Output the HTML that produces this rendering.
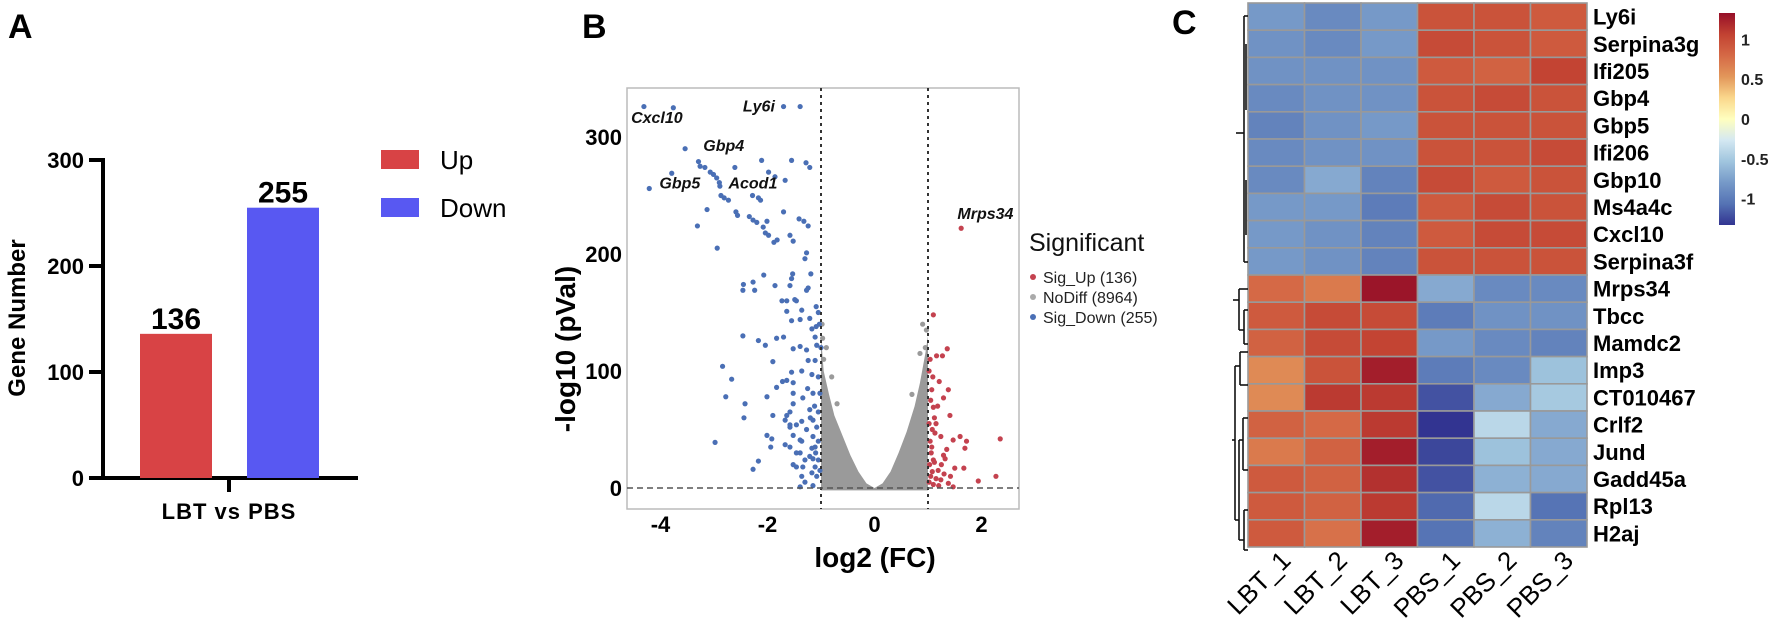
<!DOCTYPE html>
<html><head><meta charset="utf-8">
<style>
html,body{margin:0;padding:0;background:#fff;}
svg{display:block;font-family:"Liberation Sans",Arial,sans-serif;}
</style></head>
<body>
<svg id="fig" width="1772" height="630" viewBox="0 0 1772 630" xmlns="http://www.w3.org/2000/svg">
<g id="panelA"></g>
<g id="panelB"></g>
<g id="panelC"></g>
</svg>
<script>
const NS="http://www.w3.org/2000/svg";
function mk(parent,tag,attrs,text){const e=document.createElementNS(NS,tag);for(const k in attrs)e.setAttribute(k,attrs[k]);if(text!==undefined)e.textContent=text;parent.appendChild(e);return e;}

/* ---------- Panel A data ---------- */
const barCategories=["Up","Down"];
const barValues=[136,255];
const barColors=["#d84345","#5858f2"];
const barTicks=[0,100,200,300];

/* ---------- Panel B data ---------- */
const volcXTicks=[-4,-2,0,2];
const volcYTicks=[0,100,200,300];
const downX=[-4.31,-3.76,-3.54,-3.29,-3.26,-3.17,-3.07,-3.01,-2.95,-2.90,-2.89,-2.87,-2.81,-2.73,-3.79,-4.21,-2.61,-2.11,-1.98,-1.86,-1.67,-1.55,-1.28,-1.21,-1.70,-1.39,-2.28,-2.17,-2.13,-2.59,-2.56,-2.34,-2.27,-2.20,-2.08,-2.01,-2.04,-1.98,-1.88,-1.82,-1.70,-1.58,-1.52,-1.41,-1.32,-1.24,-3.13,-3.31,-2.94,-1.27,-1.30,-1.19,-1.24,-1.27,-1.53,-1.55,-2.07,-1.86,-1.58,-2.45,-2.46,-2.27,-2.24,-1.73,-1.64,-1.49,-1.46,-1.09,-1.64,-1.55,-1.39,-1.36,-1.21,-1.17,-1.09,-2.46,-2.17,-2.04,-1.83,-1.70,-1.52,-1.39,-1.27,-1.11,-1.08,-2.84,-2.67,-1.90,-1.72,-1.64,-1.55,-1.52,-1.36,-1.17,-1.83,-2.78,-2.01,-2.42,-2.44,-1.52,-1.34,-1.21,-1.15,-1.90,-1.67,-1.58,-1.46,-1.36,-1.27,-1.15,-1.11,-2.01,-1.92,-1.94,-2.98,-1.67,-1.58,-1.36,-1.17,-1.21,-2.17,-2.27,-1.52,-1.46,-1.34,-1.17,-1.11,-1.36,-1.30,-1.15,-1.39,-1.08,-1.05,-1.58,-1.52,-1.02,-1.15,-1.05,-1.11,-1.24,-1.15,-1.39,-1.46,-1.30,-1.39,-1.58,-1.64,-1.52,-1.08,-1.05,-1.10,-1.02,-1.20,-1.05,-1.12,-1.25,-1.00,-1.03,-1.05];
const downY=[326,325,290,279,275,274,270,268,265,261,258,250,248,246,269,256,274,280,270,266,263,280,278,274,326,326,250,248,246,236,233,232,229,227,223,228,218,216,210,212,236,216,211,230,228,224,238,224,205,201,196,183,171,169,183,179,182,173,173,174,169,176,169,160,160,161,160,155,151,143,144,152,145,136,138,130,126,122,128,129,119,121,118,129,122,104,93,108,91,92,99,90,100,97,86,78,78,72,60,72,77,67,58,62,58,65,54,57,50,44,35,45,42,35,39,37,35,40,34,27,23,16,20,18,18,13,18,10,5,2,1,52,24,52,45,81,81,95,109,109,25,30,30,24,41,54,62,81,10,40,30,15,60,65,70,85,120,140,150];
const upX=[1.62,1.10,1.36,1.04,1.16,1.27,1.21,1.38,1.07,1.29,1.10,1.41,1.12,2.35,1.72,1.60,1.69,1.47,1.35,1.32,1.50,1.67,2.27,1.94,1.42,1.13,1.24,1.07,1.29,1.10,1.19,1.24,1.38,1.47,1.02,1.05,1.08,1.03,1.12,1.06,1.15,1.10,1.20,1.04,1.08,1.02,1.15,1.05,1.18,1.09,1.30,1.25,1.02];
const upY=[222,148,119,110,113,113,91,84,84,77,69,62,60,42,40,44,34,41,33,25,17,17,10,6,10,47,44,35,28,24,15,7,4,1,5,10,14,20,22,30,8,3,2,40,50,55,55,75,70,95,12,20,100];
const grayEnvX=[-1.0,-0.95,-0.85,-0.75,-0.6,-0.45,-0.3,-0.15,0,0.15,0.3,0.45,0.6,0.75,0.85,0.95,1.0];
const grayEnvY=[130,100,80,62,45,28,14,4,0,4,14,30,48,70,90,115,130];
const grayOutX=[-0.95,-0.8,-0.9,0.9,0.85,0.95,-0.98,-0.7,0.7,-0.97,0.97];
const grayOutY=[110,95,120,140,115,120,140,72,80,128,135];
const geneLabels=["Cxcl10","Ly6i","Gbp4","Gbp5","Acod1","Mrps34"];
const geneLabelX=[-4.55,-2.46,-3.2,-4.02,-2.73,1.55];
const geneLabelY=[312,322,288,256,256,230];

/* ---------- Panel C data ---------- */
const hmCols=["LBT_1","LBT_2","LBT_3","PBS_1","PBS_2","PBS_3"];
const hmRows=["Ly6i","Serpina3g","Ifi205","Gbp4","Gbp5","Ifi206","Gbp10","Ms4a4c","Cxcl10","Serpina3f","Mrps34","Tbcc","Mamdc2","Imp3","CT010467","Crlf2","Jund","Gadd45a","Rpl13","H2aj"];
const hmValues=[
[-0.8,-0.9,-0.8,0.95,0.95,0.9],
[-0.85,-0.9,-0.8,1.0,0.95,0.9],
[-0.85,-0.85,-0.85,0.9,0.85,1.05],
[-0.9,-0.85,-0.85,0.95,1.0,0.95],
[-0.95,-0.85,-0.8,0.95,0.95,0.95],
[-0.9,-0.85,-0.85,0.95,0.95,1.0],
[-0.9,-0.7,-0.95,1.0,0.9,0.95],
[-0.8,-0.8,-1.0,0.9,1.0,0.95],
[-0.8,-0.85,-0.95,0.9,1.0,1.0],
[-0.8,-0.85,-0.95,0.95,0.95,0.95],
[0.8,0.7,1.3,-0.7,-0.9,-0.9],
[0.9,1.0,1.0,-1.0,-0.85,-0.85],
[0.85,1.0,1.05,-0.8,-0.9,-0.95],
[0.6,0.95,1.25,-1.0,-0.9,-0.55],
[0.6,1.1,1.1,-1.2,-0.7,-0.5],
[0.85,0.8,1.1,-1.35,-0.4,-0.7],
[0.7,0.85,1.25,-1.25,-0.55,-0.7],
[0.9,0.85,1.15,-1.2,-0.65,-0.7],
[0.9,0.85,1.1,-1.1,-0.4,-1.05],
[0.9,0.75,1.25,-1.05,-0.65,-0.95]];
const cbTicks=[1,0.5,0,-0.5,-1];
const cbTickLabels=["1","0.5","0","-0.5","-1"];

/* ===== Panel A ===== */
(function(){
const g=document.getElementById('panelA');
const y0=478, pxPer=(478-160)/300, ax=103;
const ys=v=>y0-v*pxPer;
let t=mk(g,'text',{x:8,y:38,'font-size':34,'font-weight':'bold'},'A');


let l=mk(g,'line',{x1:ax,y1:158,x2:ax,y2:480,stroke:'#000','stroke-width':4});


l=mk(g,'line',{x1:89,y1:y0,x2:358,y2:y0,stroke:'#000','stroke-width':4});


l=mk(g,'line',{x1:229,y1:y0,x2:229,y2:492,stroke:'#000','stroke-width':4});


barTicks.forEach(v=>{
 const tk=mk(g,'line',{x1:89,y1:ys(v),x2:ax,y2:ys(v),stroke:'#000','stroke-width':4});
 
 
 const tl=mk(g,'text',{x:84,y:ys(v)+8,'font-size':22,'font-weight':'bold','text-anchor':'end'},String(v));
 
 
});
const bx=[140,247], bw=72;
barValues.forEach((v,i)=>{
 const r=mk(g,'rect',{x:bx[i],y:ys(v),width:bw,height:y0-ys(v),fill:barColors[i]});
 
 
 const tl=mk(g,'text',{x:bx[i]+bw/2,y:ys(v)-5,'font-size':30,'font-weight':'bold','text-anchor':'middle'},String(v));
 
 
 const lr=mk(g,'rect',{x:381,y:150+i*48,width:38,height:19,fill:barColors[i]});
 
 
 const lt=mk(g,'text',{x:440,y:169+i*48,'font-size':26},barCategories[i]);
 
 
});
t=mk(g,'text',{x:229,y:519,'font-size':22,'font-weight':'bold','text-anchor':'middle','letter-spacing':'1'},'LBT vs PBS');


t=mk(g,'text',{x:0,y:0,'font-size':24,'font-weight':'bold','text-anchor':'middle',transform:'translate(25,318) rotate(-90)'},'Gene Number');


})();

/* ===== Panel B ===== */
(function(){
const g=document.getElementById('panelB');
const x0=874.5, xu=53.5, y0=488, yu=1.17;
const xs=v=>x0+v*xu, ys=v=>y0-v*yu;
let t=mk(g,'text',{x:582,y:38,'font-size':34,'font-weight':'bold'},'B');


const box=mk(g,'rect',{x:627,y:88,width:392,height:421,fill:'#fff',stroke:'#bbb','stroke-width':1.5});


let pts=grayEnvX.map((x,i)=>xs(x)+','+ys(grayEnvY[i]));
pts.push(xs(1.0)+','+ys(-2)); pts.push(xs(-1.0)+','+ys(-2));
const poly=mk(g,'polygon',{points:pts.join(' '),fill:'#9a9a9a'});


grayOutX.forEach((x,i)=>{
 const c=mk(g,'circle',{cx:xs(x),cy:ys(grayOutY[i]),r:2.6,fill:'#9a9a9a'});
 
 
});
downX.forEach((x,i)=>{
 const c=mk(g,'circle',{cx:xs(x),cy:ys(downY[i]),r:2.6,fill:'#4a6fb5'});
 
 
});
upX.forEach((x,i)=>{
 const c=mk(g,'circle',{cx:xs(x),cy:ys(upY[i]),r:2.6,fill:'#c4424f'});
 
 
});
[-1,1].forEach(v=>{
 const l=mk(g,'line',{x1:xs(v),y1:88,x2:xs(v),y2:509,stroke:'#333','stroke-width':2,'stroke-dasharray':'3,4'});
 
 
});
let l=mk(g,'line',{x1:627,y1:y0,x2:1019,y2:y0,stroke:'#555','stroke-width':1.5,'stroke-dasharray':'6,4'});


volcXTicks.forEach(v=>{
 const tl=mk(g,'text',{x:xs(v),y:532,'font-size':22,'font-weight':'bold','text-anchor':'middle'},String(v));
 
 
});
volcYTicks.forEach(v=>{
 const tl=mk(g,'text',{x:622,y:ys(v)+8,'font-size':22,'font-weight':'bold','text-anchor':'end'},String(v));
 
 
});
geneLabels.forEach((s,i)=>{
 const tl=mk(g,'text',{x:xs(geneLabelX[i]),y:ys(geneLabelY[i]),'font-size':16,'font-weight':'bold','font-style':'italic',fill:'#111'},s);
 
 
});
t=mk(g,'text',{x:875,y:567,'font-size':28,'font-weight':'bold','text-anchor':'middle'},'log2 (FC)');


t=mk(g,'text',{x:0,y:0,'font-size':28,'font-weight':'bold','text-anchor':'middle',transform:'translate(575,349) rotate(-90)'},'-log10 (pVal)');


t=mk(g,'text',{x:1029,y:251,'font-size':25,fill:'#111'},'Significant');


const legNames=['Sig_Up (136)','NoDiff (8964)','Sig_Down (255)'];
const legCols=['#c4424f','#aaa','#4a6fb5'];
legNames.forEach((s,i)=>{
 const c=mk(g,'circle',{cx:1033,cy:277+i*20,r:3,fill:legCols[i]});
 
 
 const tl=mk(g,'text',{x:1043,y:283+i*20,'font-size':16,fill:'#222'},s);
 
 
});
})();

/* ===== Panel C ===== */
(function(){
const g=document.getElementById('panelC');
const left=1248, top=3, cw=56.5, rh=27.2;
const stops=[[-1.33,[50,52,145]],[-1.06,[85,115,180]],[-0.8,[118,153,200]],[-0.53,[160,197,222]],[-0.27,[212,232,242]],[0,[255,255,191]],[0.27,[250,215,140]],[0.53,[226,150,90]],[0.8,[213,105,70]],[1.06,[194,66,50]],[1.33,[150,15,40]]];
function col(v){
 v=Math.max(-1.33,Math.min(1.33,v));
 for(let i=0;i<stops.length-1;i++){const a=stops[i],b=stops[i+1];
  if(v<=b[0]){const f=(v-a[0])/(b[0]-a[0]);const c=a[1].map((x,k)=>Math.round(x+(b[1][k]-x)*f));return 'rgb('+c.join(',')+')';}}
 return 'rgb(150,15,40)';
}
let t=mk(g,'text',{x:1172,y:34,'font-size':34,'font-weight':'bold'},'C');


hmValues.forEach((row,r)=>{
 row.forEach((v,c)=>{
  const rc=mk(g,'rect',{x:left+c*cw,y:top+r*rh,width:cw,height:rh,fill:col(v),stroke:'#999','stroke-width':1.6});
  
  
 });
 const tl=mk(g,'text',{x:1593,y:top+r*rh+rh/2+8,'font-size':22,'font-weight':'bold'},hmRows[r]);
 
 
});
hmCols.forEach((s,c)=>{
 const cx=left+c*cw+cw/2+16;
 const tl=mk(g,'text',{x:0,y:0,'font-size':26,'text-anchor':'end',transform:'translate('+cx+',562) rotate(-45)'},s);
 
 
});
const segs=[
 [1244,16,1244,262],[1244,16,1248,16],[1244,262,1248,262],[1236,133,1244,133],
 [1246,44,1246,110],[1246,180,1246,235],
 [1239,289,1239,330],[1239,289,1248,289],[1244,310,1244,344],[1239,330,1244,330],[1244,310,1248,310],[1244,344,1248,344],[1233,300,1239,300],
 [1235,366,1235,520],[1235,366,1240,366],[1240,352,1240,385],[1240,352,1248,352],[1240,385,1248,385],[1235,520,1239,520],
 [1239,440,1239,540],[1239,440,1243,440],[1243,418,1243,470],[1243,418,1248,418],[1243,470,1248,470],[1239,540,1244,540],[1244,510,1244,550],[1244,510,1248,510],[1244,550,1248,550],[1232,440,1235,440]
];
segs.forEach(s=>{
 const l=mk(g,'line',{x1:s[0],y1:s[1],x2:s[2],y2:s[3],stroke:'#111','stroke-width':1.6});
 
 
});
const defs=mk(g,'defs',{});
const grad=mk(defs,'linearGradient',{id:'cbg',x1:0,y1:0,x2:0,y2:1});
stops.slice().reverse().forEach((s,i)=>{mk(grad,'stop',{offset:(i/(stops.length-1)),'stop-color':'rgb('+s[1].join(',')+')'});});
const cbTop=13, cbBot=225;
const cys=v=>cbTop+(1.33-v)/2.66*(cbBot-cbTop);
const cb=mk(g,'rect',{x:1719,y:cbTop,width:16,height:cbBot-cbTop,fill:'url(#cbg)'});


cbTicks.forEach((v,i)=>{
 const tl=mk(g,'text',{x:1741,y:cys(v)+6,'font-size':16,'font-weight':'bold',fill:'#222'},cbTickLabels[i]);
 
 
});
})();
</script>
</body></html>
